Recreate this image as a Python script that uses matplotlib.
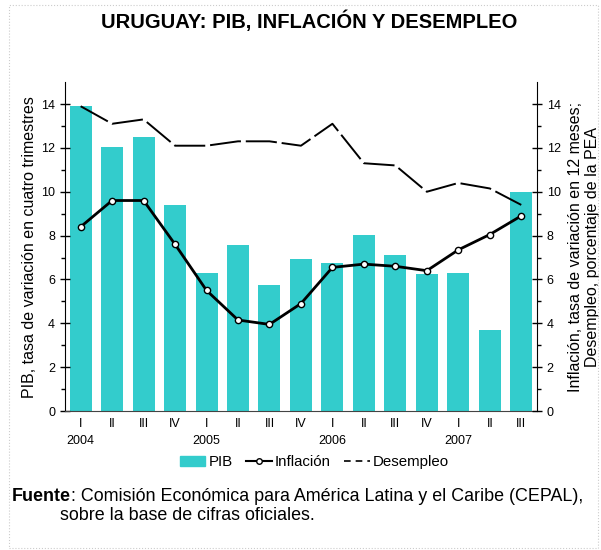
import matplotlib.pyplot as plt
import numpy as np
from matplotlib.lines import Line2D
from matplotlib.patches import Patch, Rectangle

plt.rcParams['font.family'] = ['Liberation Sans', 'DejaVu Sans']

# quarterly data 2004-I .. 2007-III
quarters = ['I', 'II', 'III', 'IV', 'I', 'II', 'III', 'IV',
            'I', 'II', 'III', 'IV', 'I', 'II', 'III']
years = ['2004', '2005', '2006', '2007']
pib = [13.9, 12.05, 12.5, 9.4, 6.3, 7.55, 5.75, 6.95,
       6.75, 8.05, 7.1, 6.25, 6.3, 3.7, 10.0]
inflacion = [8.4, 9.6, 9.6, 7.6, 5.5, 4.15, 3.95, 4.9,
             6.55, 6.7, 6.6, 6.4, 7.35, 8.05, 8.9]
desempleo = [13.9, 13.1, 13.3, 12.1, 12.1, 12.3, 12.3, 12.1,
             13.1, 11.3, 11.2, 10.0, 10.4, 10.15, 9.4]

bar_color = '#33CCCC'
x = np.arange(len(quarters))

fig = plt.figure(figsize=(6.01, 5.5), dpi=100)
ax = fig.add_axes([0.108, 0.2527, 0.7855, 0.598])
ax2 = ax.twinx()

ax.bar(x, pib, width=0.7, color=bar_color, zorder=1)
ax2.plot(x, desempleo, color='black', lw=1.4, dashes=(16, 2.5), zorder=2)
ax2.plot(x, inflacion, color='black', lw=2, marker='o', ms=4.5,
         mfc='white', mec='black', mew=1, zorder=3)

ax.set_xlim(-0.5, 14.5)
for a in (ax, ax2):
    a.set_ylim(0, 15)
    a.set_yticks(range(0, 15, 2))
    a.set_yticks(range(1, 15, 2), minor=True)
    a.spines['top'].set_visible(False)
ax.spines['right'].set_visible(False)
ax2.spines['left'].set_visible(False)
ax2.spines['bottom'].set_visible(False)

ax.tick_params(axis='y', which='major', direction='inout', length=7, width=1, labelsize=9)
ax.tick_params(axis='y', which='minor', direction='out', length=3, width=1)
ax2.tick_params(axis='y', which='major', direction='inout', length=7, width=1, labelsize=9)
ax2.tick_params(axis='y', which='minor', direction='out', length=3, width=1)

ax.set_xticks(x)
ax.set_xticklabels(quarters, fontsize=9)
ax.tick_params(axis='x', length=0, pad=5)
ax.spines['bottom'].set_color('#444444')

for i, yr in enumerate(years):
    ax.text(i * 4, -1.35, yr, ha='center', va='center', fontsize=9)

ax.set_ylabel('PIB, tasa de variación en cuatro trimestres', fontsize=11.5, labelpad=3)
ax2.set_ylabel('Inflación, tasa de variación en 12 meses;\nDesempleo, porcentaje de la PEA',
               fontsize=11.5, labelpad=5)

fig.text(0.515, 0.962, 'URUGUAY: PIB, INFLACIÓN Y DESEMPLEO', ha='center', va='center',
         fontsize=14.5, fontweight='bold')

handles = [Patch(color=bar_color, label='PIB'),
           Line2D([], [], color='black', lw=1.5, marker='o', ms=4, mfc='white',
                  mec='black', label='Inflación'),
           Line2D([], [], color='black', lw=1.2, dashes=(4, 3), label='Desempleo')]
fig.legend(handles=handles, loc='center', bbox_to_anchor=(0.523, 0.16), ncol=3,
           frameon=False, fontsize=10.8, handlelength=1.7, handletextpad=0.2,
           columnspacing=0.9)

# source note: bold "Fuente" followed directly by the rest
r = fig.canvas.get_renderer()
t1 = fig.text(0.02, 0.098, 'Fuente', fontweight='bold', fontsize=12.9, va='center')
w = t1.get_window_extent(renderer=r).width / fig.bbox.width
fig.text(0.02 + w, 0.098, ': Comisión Económica para América Latina y el Caribe (CEPAL),',
         fontsize=12.9, va='center')
fig.text(0.1, 0.062, 'sobre la base de cifras oficiales.', fontsize=12.9, va='center')

fig.patches.append(Rectangle((0.015, 0.003), 0.98, 0.988, transform=fig.transFigure,
                             fill=False, ec='#cccccc', lw=0.8, ls=':'))

fig.savefig('out.png', dpi=100)
